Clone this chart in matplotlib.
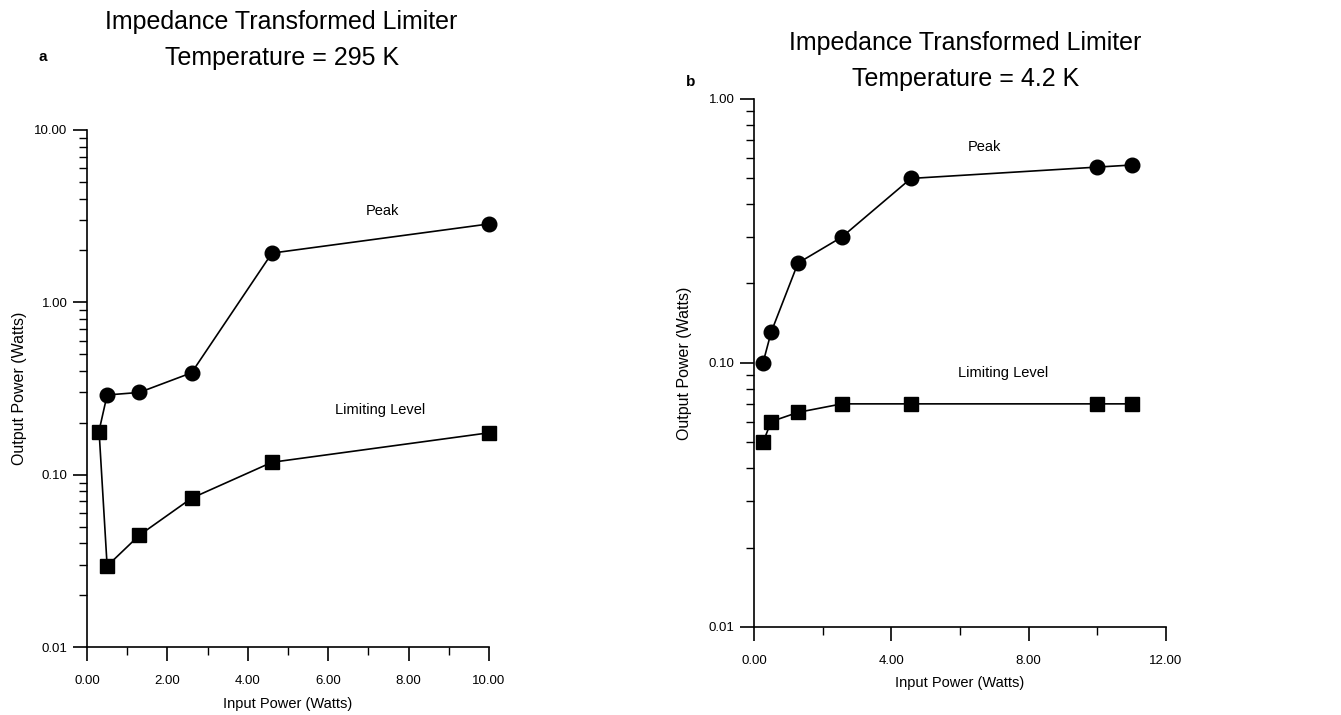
import matplotlib
matplotlib.use("Agg")
import matplotlib.pyplot as plt
from matplotlib.ticker import LogLocator, FixedLocator, FuncFormatter, NullFormatter

plt.rcParams['font.family'] = ['Liberation Sans', 'DejaVu Sans']

# panel a: 295 K
a_peak_x = [0.3, 0.5, 1.3, 2.6, 4.6, 10.0]
a_peak_y = [0.18, 0.29, 0.30, 0.39, 1.93, 2.85]
a_lim_x = [0.3, 0.5, 1.3, 2.6, 4.6, 10.0]
a_lim_y = [0.178, 0.0295, 0.0445, 0.073, 0.118, 0.175]

# panel b: 4.2 K
b_peak_x = [0.26, 0.5, 1.28, 2.56, 4.57, 10.0, 11.0]
b_peak_y = [0.10, 0.131, 0.239, 0.30, 0.50, 0.552, 0.562]
b_lim_x = [0.26, 0.5, 1.28, 2.56, 4.57, 10.0, 11.0]
b_lim_y = [0.050, 0.060, 0.065, 0.070, 0.070, 0.070, 0.070]

fig = plt.figure(figsize=(13.41, 7.15), dpi=100)
axA = fig.add_axes([0.0649, 0.0951, 0.2998, 0.7231])
axB = fig.add_axes([0.5623, 0.1231, 0.3072, 0.7385])

fmt2 = FuncFormatter(lambda v, p: f"{v:.2f}")


def style(ax, xmax, xmajor, xminor, ymin, ymax):
    ax.set_yscale('log')
    ax.set_xlim(0, xmax)
    ax.set_ylim(ymin, ymax)
    for s in ['top', 'right']:
        ax.spines[s].set_visible(False)
    ax.spines['left'].set_linewidth(1.2)
    ax.spines['bottom'].set_linewidth(1.2)
    ax.xaxis.set_major_locator(FixedLocator(xmajor))
    ax.xaxis.set_minor_locator(FixedLocator(xminor))
    ax.xaxis.set_major_formatter(fmt2)
    ax.yaxis.set_major_locator(LogLocator(base=10, numticks=10))
    ax.yaxis.set_minor_locator(LogLocator(base=10, subs=range(2, 10), numticks=10))
    ax.yaxis.set_major_formatter(fmt2)
    ax.yaxis.set_minor_formatter(NullFormatter())
    ax.tick_params(which='major', length=10, width=1.2, labelsize=9.5)
    ax.tick_params(which='minor', length=5.5, width=1.0)
    ax.tick_params(axis='x', which='major', pad=10)
    ax.tick_params(axis='y', which='major', pad=4)
    ax.set_xlabel("Input Power (Watts)", fontsize=10.5, labelpad=7)
    ax.set_ylabel("Output Power (Watts)", fontsize=11.5)
    ax.yaxis.set_label_coords(-0.15, 0.5)


style(axA, 10, [0, 2, 4, 6, 8, 10], [1, 3, 5, 7, 9], 0.01, 10)
style(axB, 12, [0, 4, 8, 12], [2, 6, 10], 0.01, 1)

# panel a
axA.plot(a_peak_x, a_peak_y, color='black', lw=1.2, marker='o', ms=10.5,
         markevery=list(range(1, len(a_peak_x))), clip_on=False)
axA.plot(a_lim_x, a_lim_y, color='black', lw=1.2, marker='s', ms=10.5, clip_on=False)
axA.text(7.35, 3.4, "Peak", ha='center', va='center', fontsize=10.5)
axA.text(7.3, 0.236, "Limiting Level", ha='center', va='center', fontsize=10.5)
fig.text(0.210, 0.944, "Impedance Transformed Limiter\nTemperature = 295 K",
         ha='center', va='center', fontsize=18, linespacing=1.6)
fig.text(0.032, 0.92, "a", ha='center', va='center', fontsize=11, fontweight='bold')

# panel b
axB.plot(b_peak_x, b_peak_y, color='black', lw=1.2, marker='o', ms=10.5, clip_on=False)
axB.plot(b_lim_x, b_lim_y, color='black', lw=1.2, marker='s', ms=10.5, clip_on=False)
axB.text(6.7, 0.66, "Peak", ha='center', va='center', fontsize=10.5)
axB.text(7.25, 0.092, "Limiting Level", ha='center', va='center', fontsize=10.5)
fig.text(0.720, 0.915, "Impedance Transformed Limiter\nTemperature = 4.2 K",
         ha='center', va='center', fontsize=18, linespacing=1.65)
fig.text(0.515, 0.885, "b", ha='center', va='center', fontsize=11, fontweight='bold')

fig.savefig("out.png", dpi=100)
